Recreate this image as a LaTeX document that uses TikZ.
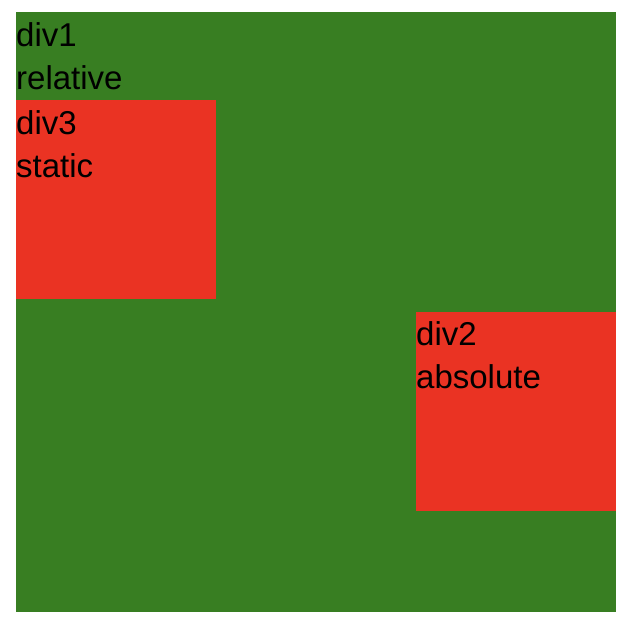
\documentclass[tikz,border=0pt]{standalone}
\usepackage{fontspec}
\setmainfont{Liberation Sans}
\usepackage{tikz}
\definecolor{boxgreen}{RGB}{56,126,34}
\definecolor{boxred}{RGB}{234,51,35}

\begin{document}
\begin{tikzpicture}[x=1pt,y=-1pt,
  lbl/.style={anchor=base west,inner sep=0pt,font=\fontsize{33}{44}\selectfont}]
\fill[white] (0,0) rectangle (626,624);
\useasboundingbox (0,0) rectangle (626,624);
% outer div, then the two inner ones
\fill[boxgreen] (16,12) rectangle (616,612);
\fill[boxred] (16,100) rectangle (216,299);
\fill[boxred] (416,312) rectangle (616,511);
\node[lbl] (div1name) at (16,46) {div1};
\node[lbl] (div1pos) at (16,89) {relative};
\node[lbl] (div3name) at (16,134) {div3};
\node[lbl] (div3pos) at (16,177) {static};
\node[lbl] (div2name) at (416,345) {div2};
\node[lbl] (div2pos) at (416,388) {absolute};
\end{tikzpicture}
\end{document}
